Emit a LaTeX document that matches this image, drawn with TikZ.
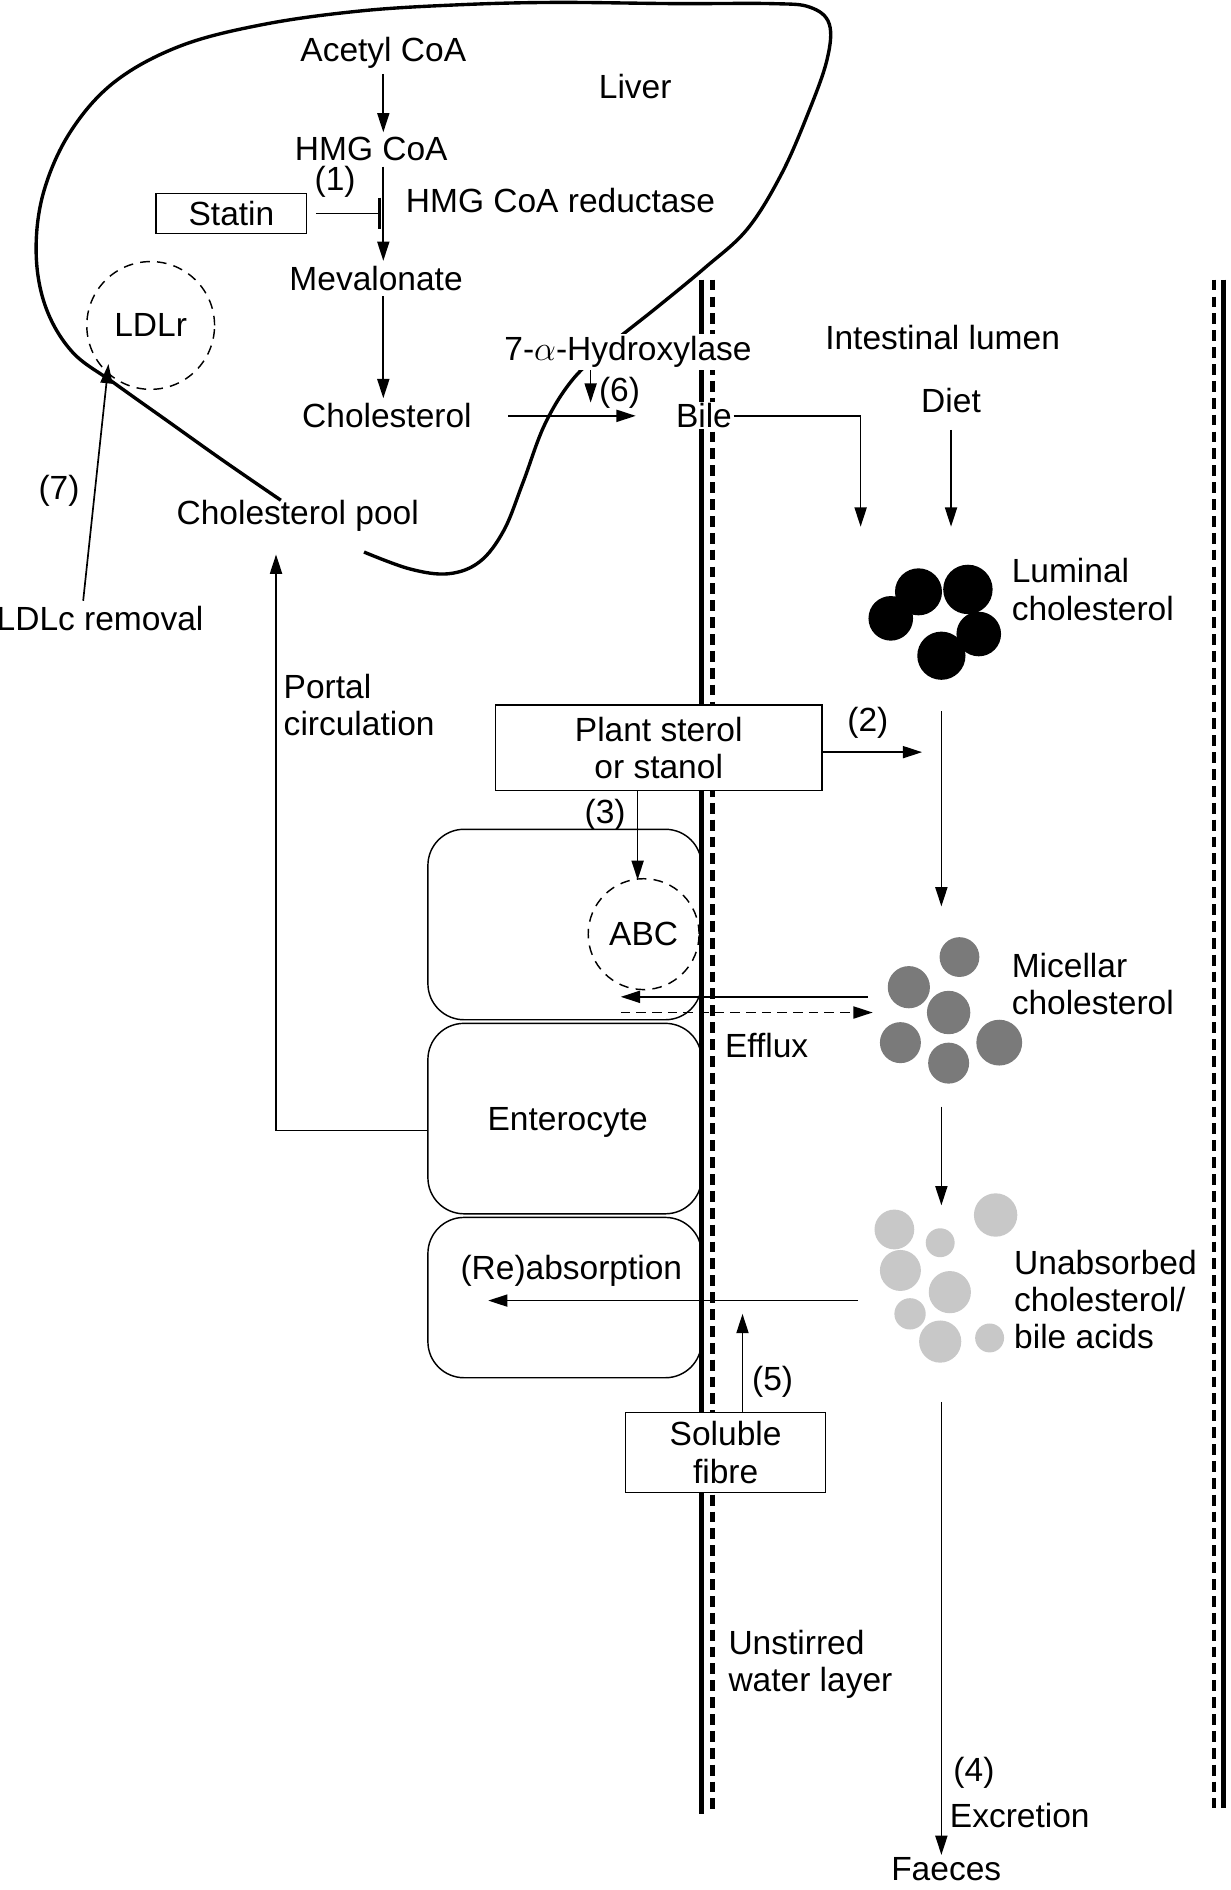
\documentclass[tikz,border=0pt]{standalone}
\usepackage{fontspec}
\setmainfont{Liberation Sans}
\usetikzlibrary{arrows.meta,calc,positioning}
\definecolor{micellegray}{RGB}{122,122,122}
\definecolor{unabsgray}{RGB}{200,200,200}

\begin{document}
\begin{tikzpicture}[x=0.5pt,y=-0.5pt,
    every node/.style={font=\fontsize{13.9}{15.5}\selectfont, inner sep=2pt},
    arr/.style={-{Triangle[length=8pt,width=5pt]}, line width=0.7pt},
    box/.style={draw, fill=white, line width=0.6pt, align=center},
    cell/.style={draw, rounded corners=15pt, line width=0.6pt},
    ring/.style={draw, circle, line width=0.6pt, dash pattern=on 4pt off 3pt},
    wall/.style={line width=1.7pt},
    wallgap/.style={line width=1.8pt, dash pattern=on 4.5pt off 2.5pt}]
\useasboundingbox (0,0) rectangle (1021,1568);

\draw[line width=1.4pt] plot[smooth, tension=0.6] coordinates {
    (302,458) (340,472) (372,476) (398,466) (418,440) (434,400) (452,352)
    (475,315) (505,287) (545,255) (585,222) (620,190) (648,145) (670,95)
    (686,50) (688,20) (672,6) (640,3) (560,3) (460,2) (380,4) (300,9)
    (220,20) (150,38) (95,68) (58,110) (36,160) (30,210) (38,255) (60,292)
    (95,318) (140,350) (185,382) (233,415)};

\draw[wall] (582,232) -- (582,1505);
\draw[wallgap] (591,232) -- (591,1505);
\draw[wallgap] (1007,232) -- (1007,1500);
\draw[wall] (1015,232) -- (1015,1500);

\node (acetyl) at (318,44) {Acetyl CoA};
\node (liver) at (527,72) {Liver};
\node (hmg) at (308,124) {HMG CoA};
\node (n1) at (278,151) {(1)};
\node[box, minimum width=62.5pt, minimum height=16.5pt] (statin) at (192,177) {Statin};
\node (reductase) at (465,166) {HMG CoA reductase};
\node (meval) at (312,231) {Mevalonate};
\node (chol) at (321,345) {Cholesterol};
\node[ring, minimum size=53pt] (ldlr) at (125,270) {LDLr};
\node[fill=white, inner sep=1pt] (hydrox) at (521,292) {7-$\alpha$-Hydroxylase};
\node (n6) at (514,326) {(6)};
\node[fill=white, inner sep=0.5pt] (bile) at (584,345) {Bile};
\node (lumen) at (782,280) {Intestinal lumen};
\node (diet) at (789,332) {Diet};
\node (pool) at (247,428) {Cholesterol pool};
\node (n7) at (49,407) {(7)};
\node (ldlc) at (83,513) {LDLc removal};
\node[align=left, anchor=west] (luminal) at (835,489) {Luminal\\cholesterol};
\node[align=left, anchor=west] (portal) at (231,585) {Portal\\circulation};
\node[box, minimum width=135.5pt, minimum height=35.5pt] (plant) at (546.5,620.5) {Plant sterol\\or stanol};
\node (n2) at (720,600) {(2)};
\node (n3) at (502,676) {(3)};
\node[cell, minimum width=113.5pt, minimum height=79pt] (cellA) at (468.5,767) {};
\node[cell, minimum width=113.5pt, minimum height=79pt] (cellB) at (468.5,928) {};
\node (entero) at (471,931) {Enterocyte};
\node[cell, minimum width=113.5pt, minimum height=66.5pt] (cellC) at (468.5,1076.5) {};
\node[ring, minimum size=46pt] (abc) at (534,775) {ABC};
\node (efflux) at (636,867) {Efflux};
\node[align=left, anchor=west] (micellar) at (835,816.5) {Micellar\\cholesterol};
\node (reabs) at (474,1054) {(Re)absorption};
\node[align=left, anchor=west] (unabs) at (837,1078) {Unabsorbed\\cholesterol/\\bile acids};
\node[box, minimum width=83pt, minimum height=33pt] (fibre) at (602,1205) {Soluble\\fibre};
\node (n5) at (641,1146) {(5)};
\node[align=left, anchor=west] (unstirred) at (600,1381) {Unstirred\\water layer};
\node (n4) at (808,1471) {(4)};
\node (excr) at (846,1506) {Excretion};
\node[inner sep=1pt] (faeces) at (785,1551) {Faeces};

\foreach \cx/\cy/\r in {762/491/19.5, 803/489/20.5, 739/513/18.5, 812/526/18.5, 781/544/20}
    \fill[black] (\cx,\cy) circle[radius=\r];
\foreach \cx/\cy/\r in {796/794/16.5, 754/819/17.5, 787/840/18, 747/865/17, 829/865/19, 787/882/17}
    \fill[micellegray] (\cx,\cy) circle[radius=\r];
\foreach \cx/\cy/\r in {742/1020/16.5, 826/1008/18, 780/1031/12, 747/1054/17, 788/1072/17.5, 755/1090/13, 780/1113/17.5, 821/1110/12}
    \fill[unabsgray] (\cx,\cy) circle[radius=\r];

\coordinate (block) at (316,177);
\coordinate (h6) at (490,334);
\coordinate (bilein) at (714,437);
\coordinate (sterolhit) at (765,624);
\coordinate (abctop) at (529,730);
\coordinate (lumout) at (781,590);
\coordinate (micin) at (781,752);
\coordinate (micleft) at (720,827);
\coordinate (cellin) at (515,827);
\coordinate (effstart) at (515,840);
\coordinate (effend) at (724,840);
\coordinate (micout) at (781,918);
\coordinate (unin) at (781,1000);
\coordinate (unleft) at (712,1079);
\coordinate (reabsin) at (405,1079);
\coordinate (fibreup) at (616,1090);
\coordinate (portalup) at (229,460);
\coordinate (ldlrin) at (90,302);
\coordinate (excrtop) at (781,1163);

\draw[arr] (acetyl) -- (acetyl |- hmg.north);
\draw[arr] (hmg.south -| acetyl) -- (acetyl |- meval.north);
\draw[line width=0.7pt, -{Bar[width=13pt, line width=1.4pt]}, shorten <=3.5pt] (statin) -- (block);
\draw[arr] (meval.south -| acetyl) -- (acetyl |- chol.north);
\draw[arr, shorten <=13pt, shorten >=16pt] (chol) -- (bile);
\draw[arr] (hydrox.south -| h6) -- (h6);
\draw[arr] (bile.east) -| (bilein);
\draw[arr, shorten <=5pt] (diet) -- (diet |- bilein);
\draw[arr] (plant.east |- sterolhit) -- (sterolhit);
\draw[arr] (plant.south -| abctop) -- (abctop);
\draw[arr] (lumout) -- (micin);
\draw[arr] (micleft) -- (cellin);
\draw[arr, dash pattern=on 4pt off 2.5pt] (effstart) -- (effend);
\draw[arr] (micout) -- (unin);
\draw[arr] (unleft) -- (reabsin);
\draw[arr] (fibre.north -| fibreup) -- (fibreup);
\draw[arr] ([yshift=-5pt]cellB.west) -| (portalup);
\draw[arr] ([xshift=-7pt]ldlc.north) -- (ldlrin);
\draw[arr] (excrtop) -- (faeces.north -| excrtop);
\end{tikzpicture}
\end{document}
